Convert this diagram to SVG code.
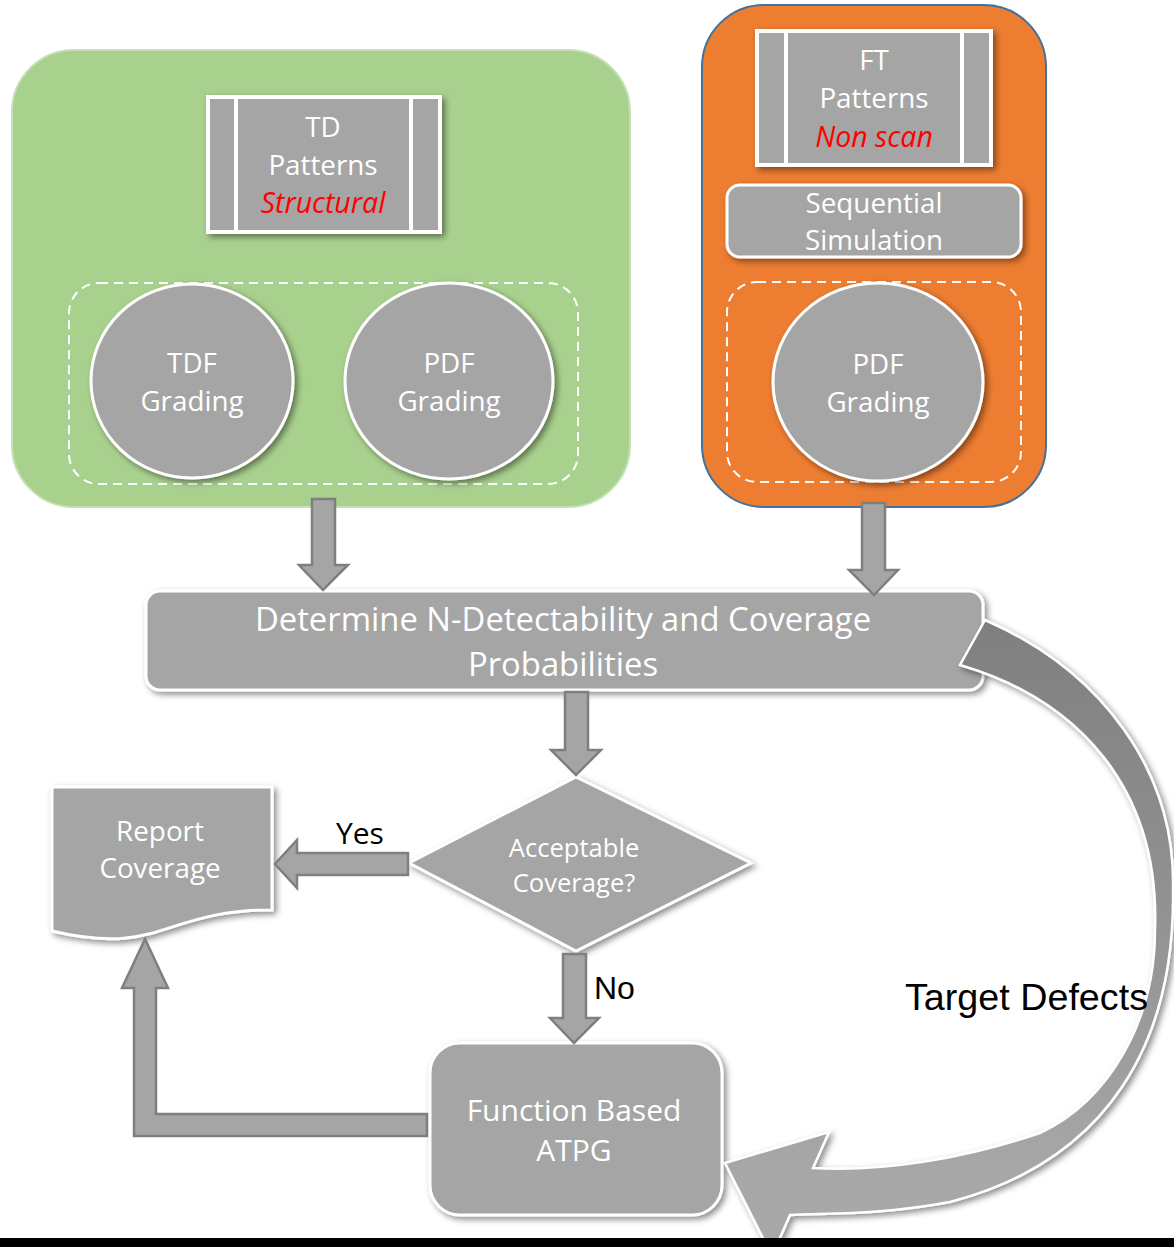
<svg xmlns="http://www.w3.org/2000/svg" width="1174" height="1247" viewBox="0 0 1174 1247">
  <defs>
    <filter id="shadow" x="-20%" y="-20%" width="140%" height="140%">
      <feDropShadow dx="3" dy="3" stdDeviation="3" flood-color="#000" flood-opacity="0.45"/>
    </filter>
    <linearGradient id="curveFill" gradientUnits="userSpaceOnUse" x1="0" y1="620" x2="0" y2="1180">
      <stop offset="0" stop-color="#7f7f7f"/>
      <stop offset="0.55" stop-color="#939393"/>
      <stop offset="1" stop-color="#a8a8a8"/>
    </linearGradient>
    <style>
      .shape { fill: #a5a5a5; stroke: #ffffff; stroke-width: 3; }
      .block { fill: #a5a5a5; stroke: #7f7f7f; stroke-width: 2.5; stroke-linejoin: miter; }
      .dash { fill: none; stroke: #ffffff; stroke-width: 2; stroke-dasharray: 9 6; }
      .lbl { font-family: "Open Sans", "Noto Sans", sans-serif; fill: #ffffff; text-anchor: middle; font-size: 27.8px; }
      .red { font-family: "Open Sans", "Noto Sans", sans-serif; fill: #ff0000; font-style: italic; text-anchor: middle; font-size: 28.5px; }
      .blk { font-family: "Liberation Sans", Arial, sans-serif; fill: #000000; }
    </style>
  </defs>

  <!-- panel backgrounds -->
  <g id="panel-td">
    <rect x="12" y="50" width="618" height="457" rx="62" fill="#a9d18e" stroke="#c5e0b4" stroke-width="2"/>
  </g>
  <g id="panel-ft">
    <rect x="702" y="5" width="344" height="502" rx="62" fill="#ed7d31" stroke="#41719c" stroke-width="2"/>
  </g>

  <!-- TD patterns -->
  <g id="td-patterns">
    <rect x="208" y="97" width="232" height="135" fill="#a5a5a5" stroke="#fff" stroke-width="4" filter="url(#shadow)"/>
    <line x1="236" y1="97" x2="236" y2="232" stroke="#fff" stroke-width="4"/>
    <line x1="411" y1="97" x2="411" y2="232" stroke="#fff" stroke-width="4"/>
    <text class="lbl" x="323" y="137">TD</text>
    <text class="lbl" x="323" y="175">Patterns</text>
    <text class="red" x="323" y="213">Structural</text>
  </g>

  <!-- TD grading group -->
  <g id="td-grading">
    <rect class="dash" x="69" y="283" width="509" height="201" rx="30"/>
  </g>
  <g id="tdf-grading">
    <ellipse class="shape" cx="192" cy="381" rx="101" ry="97" filter="url(#shadow)"/>
    <text class="lbl" x="192" y="373">TDF</text>
    <text class="lbl" x="192" y="411">Grading</text>
  </g>
  <g id="pdf-grading-td">
    <ellipse class="shape" cx="449" cy="381" rx="104" ry="98" filter="url(#shadow)"/>
    <text class="lbl" x="449" y="373">PDF</text>
    <text class="lbl" x="449" y="411">Grading</text>
  </g>

  <!-- FT patterns -->
  <g id="ft-patterns">
    <rect x="757" y="31" width="234" height="134" fill="#a5a5a5" stroke="#fff" stroke-width="4" filter="url(#shadow)"/>
    <line x1="786" y1="31" x2="786" y2="165" stroke="#fff" stroke-width="4"/>
    <line x1="962" y1="31" x2="962" y2="165" stroke="#fff" stroke-width="4"/>
    <text class="lbl" x="874" y="70">FT</text>
    <text class="lbl" x="874" y="108">Patterns</text>
    <text class="red" x="874" y="147">Non scan</text>
  </g>
  <g id="sequential-simulation">
    <rect class="shape" x="727" y="185" width="294" height="72" rx="13" filter="url(#shadow)"/>
    <text class="lbl" x="874" y="213">Sequential</text>
    <text class="lbl" x="874" y="250">Simulation</text>
  </g>
  <g id="ft-grading">
    <rect class="dash" x="727" y="282" width="294" height="200" rx="30"/>
  </g>
  <g id="pdf-grading-ft">
    <ellipse class="shape" cx="878" cy="382" rx="105" ry="99" filter="url(#shadow)"/>
    <text class="lbl" x="878" y="374">PDF</text>
    <text class="lbl" x="878" y="412">Grading</text>
  </g>

  <!-- main flow -->
  <g id="determine">
    <rect class="shape" x="146" y="591" width="837" height="99" rx="14" stroke-width="2" filter="url(#shadow)"/>
    <text class="lbl" x="563" y="631" style="font-size:32.8px">Determine N-Detectability and Coverage</text>
    <text class="lbl" x="563" y="676" style="font-size:32.8px">Probabilities</text>
  </g>
  <g id="acceptable">
    <polygon class="shape" points="576,777 751,863 576,951 409,863" stroke-width="2.5" filter="url(#shadow)"/>
    <text class="lbl" x="574" y="857" style="font-size:25.6px">Acceptable</text>
    <text class="lbl" x="574" y="892" style="font-size:25.6px">Coverage?</text>
  </g>
  <g id="report">
    <path class="shape" d="M52,787 L272,787 L272,910 C162,910 162,957 52,931 Z" stroke-width="2.5" filter="url(#shadow)"/>
    <text class="lbl" x="160" y="841">Report</text>
    <text class="lbl" x="160" y="878">Coverage</text>
  </g>
  <g id="atpg">
    <rect class="shape" x="430" y="1043" width="292" height="172" rx="30" filter="url(#shadow)"/>
    <text class="lbl" x="574" y="1121" style="font-size:30px">Function Based</text>
    <text class="lbl" x="574" y="1161" style="font-size:30px">ATPG</text>
  </g>

  <!-- connectors -->
  <g id="connectors">
    <polygon class="block" points="312,499 335,499 335,565 348,565 323,590 299,565 312,565"/>
    <polygon class="block" points="862,503 885,503 885,570 898,570 874,595 849,570 862,570"/>
    <polygon class="block" points="565,692 588,692 588,750 601,750 576,775 551,750 565,750"/>
    <polygon class="block" points="408,853 408,875 297,875 297,888 275,864 297,840 297,853"/>
    <polygon class="block" points="563,954 586,954 586,1018 599,1018 574,1043 550,1018 563,1018"/>
    <polygon class="block" points="427,1114 427,1136 134,1136 134,988 122,988 145,939 168,988 156,988 156,1114"/>
    <path d="M985,620 C1100,670 1176,770 1173,890 C1175,1040 1110,1160 950,1202 C880,1215 830,1213 790,1215 L772,1256 L725,1163 L829,1132 L813,1168 C880,1172 960,1160 1040,1133 C1110,1100 1155,1020 1155,930 C1160,790 1080,700 960,665 Z" fill="url(#curveFill)" stroke="#ffffff" stroke-width="2.5" stroke-linejoin="miter" filter="url(#shadow)"/>
    <text class="blk" x="336" y="844" style="font-family:'Open Sans','Noto Sans',sans-serif;font-size:30px">Yes</text>
    <text class="blk" x="594" y="999" style="font-size:32px">No</text>
    <text class="blk" x="905" y="1010" style="font-size:37.7px">Target Defects</text>
  </g>

  <!-- bottom strip -->
  <rect x="0" y="1238" width="1174" height="9" fill="#000000"/>
</svg>
